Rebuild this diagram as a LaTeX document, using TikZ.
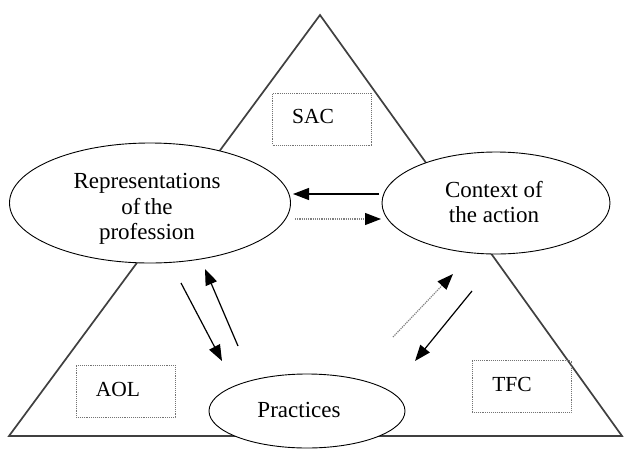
\documentclass[tikz,border=0pt]{standalone}
\usepackage{fontspec}
\setmainfont{Liberation Serif}
\usetikzlibrary{shapes.geometric,arrows.meta}
\begin{document}
\begin{tikzpicture}[x=1pt,y=-1pt,
  side/.style={draw=black!75,line width=1.7pt},
  oval/.style={ellipse,draw=black,line width=0.9pt,fill=white,inner sep=0pt},
  ovaltext/.style={align=center,inner sep=0pt,font=\fontsize{23}{25.5}\selectfont},
  tag/.style={draw=black!55,densely dotted,line width=0.9pt,minimum width=99pt,minimum height=52pt,inner sep=0pt},
  tagtext/.style={font=\fontsize{21.5}{24}\selectfont,inner sep=0pt},
  solidarrow/.style={draw=black,line width=1.2pt,-{Triangle[length=16pt,width=12pt]}},
  dotarrow/.style={draw=black!50,densely dotted,line width=1.2pt,-{Triangle[length=16pt,width=12pt,color=black]}}]
\useasboundingbox (0,0) rectangle (625,448);
\fill[white] (0,0) rectangle (625,448);
% triangle
\coordinate (apex) at (320,15);
\coordinate (bl) at (9,436);
\coordinate (br) at (622,436);
\draw[side] (bl) -- (apex) -- (br) -- cycle;
% labelled boxes
\node[tag] (sacbox) at (322,119) {};
\node[tagtext] (sac) at (313,116) {SAC};
\node[tag] (aolbox) at (125.5,391) {};
\node[tagtext] (aol) at (118,389) {AOL};
\node[tag] (tfcbox) at (521.5,386.5) {};
\node[tagtext] (tfc) at (512,384) {TFC};
% ellipses
\node[oval,minimum width=281pt,minimum height=120pt] (rep) at (150,203) {};
\node[ovaltext] (reptext) at (147,209) {Representations\\of\,the\\profession};
\node[oval,minimum width=228pt,minimum height=102pt] (ctx) at (496,203) {};
\node[ovaltext] (ctxtext) at (494,202) {Context of\\the action};
\node[oval,minimum width=196pt,minimum height=74pt] (prac) at (307,411) {};
\node[ovaltext] (practext) at (299,410) {Practices};
% arrow end points
\coordinate (a1s) at (379,194); \coordinate (a1e) at (293,194);
\coordinate (a2s) at (295,219); \coordinate (a2e) at (381,219);
\coordinate (a3s) at (181,283); \coordinate (a3e) at (222,361);
\coordinate (a4s) at (238,346); \coordinate (a4e) at (205,269);
\coordinate (a5s) at (393,337); \coordinate (a5e) at (453,274);
\coordinate (a6s) at (472,291); \coordinate (a6e) at (415,361);
\draw[solidarrow] (a1s) -- (a1e);
\draw[dotarrow] (a2s) -- (a2e);
\draw[solidarrow] (a3s) -- (a3e);
\draw[solidarrow] (a4s) -- (a4e);
\draw[dotarrow] (a5s) -- (a5e);
\draw[solidarrow] (a6s) -- (a6e);
\end{tikzpicture}
\end{document}
